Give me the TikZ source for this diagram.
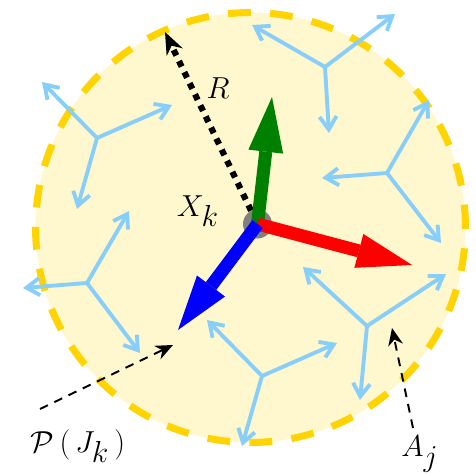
\documentclass[tikz,border=0pt]{standalone}
\usepackage{amsmath,amssymb}
\usepackage{tikz}
\usetikzlibrary{arrows.meta,positioning}
\definecolor{fillyellow}{RGB}{255,247,205}
\definecolor{goldline}{RGB}{255,212,0}
\definecolor{skyspoke}{RGB}{135,206,250}
\definecolor{darkgreen}{RGB}{0,128,0}
\tikzset{
  domdisk/.style={draw=goldline, fill=fillyellow, line width=4pt,
                  dash pattern=on 13pt off 11pt},
  hub/.style    ={circle, fill=black!50, minimum size=0.58cm, inner sep=0pt},
  spoke/.style  ={-{Straight Barb[length=2.6mm,width=3.4mm]}, line width=2.2pt,
                  skyspoke},
  bigarr/.style ={-{Triangle[length=11mm,width=7mm,line width=0pt]},
                  line width=7.4pt},
  radarr/.style ={-{Stealth[length=4.5mm,width=3.6mm,line width=0pt]},
                  line width=3.5pt, dash pattern=on 3.5pt off 3.5pt},
  pointer/.style={-{Stealth[length=3.5mm,width=3mm,line width=0pt]},
                  line width=1.1pt, dash pattern=on 5pt off 4pt},
  lbl/.style    ={font=\fontsize{17}{20}\selectfont, inner sep=1pt},
}
\begin{document}
\begin{tikzpicture}[x=0.02cm,y=-0.02cm]
  \useasboundingbox (0,0) rectangle (476,473);
  % the domain
  \node[domdisk, circle, minimum size=8.6cm, inner sep=0pt] (dom) at (250.5,227.5) {};
  % local frames
  \foreach \cx/\cy/\ax/\ay/\bx/\by/\dx/\dy [count=\i] in
    {325/67/252/25/395/14/329/133,
     97/138/42/82/172/105/77/209,
     387/173/322/178/429/100/441/243,
     87/283/23/288/129/211/140/353,
     367/326/303/267/446/274/360/400,
     262/376/207/320/337/343/242/446}
  {
    \coordinate (f\i) at (\cx,\cy);
    \coordinate (f\i a) at (\ax,\ay);
    \coordinate (f\i b) at (\bx,\by);
    \coordinate (f\i c) at (\dx,\dy);
    \draw[spoke] (f\i) -- (f\i a);
    \draw[spoke] (f\i) -- (f\i b);
    \draw[spoke] (f\i) -- (f\i c);
  }
  % centre and its frame
  \node[hub] (xk) at (257.5,224) {};
  \coordinate (rtip) at (165,32);
  \coordinate (gtip) at (272,97);
  \coordinate (etip) at (412,265);
  \coordinate (btip) at (178,330);
  \draw[radarr] (xk) -- (rtip);
  \draw[bigarr, darkgreen] (xk.center) -- (gtip);
  \draw[bigarr, red] (xk.center) -- (etip);
  \draw[bigarr, blue] (xk.center) -- (btip);
  \node[lbl] (rlab) at (218,88) {$R$};
  \node[lbl] (xlab) at (198,211) {$X_{\textstyle k}$};
  % pointers
  \node[lbl] (plab) at (78,446) {$\mathcal{P}\,(\,J_{\textstyle k}\,)$};
  \node[lbl] (alab) at (420,454) {$A_{\textstyle j}$};
  \coordinate (pstart) at (40,409);
  \coordinate (ptip) at (173,345);
  \coordinate (astart) at (413,428);
  \coordinate (atip) at (392,328);
  \draw[pointer] (pstart) -- (ptip);
  \draw[pointer] (astart) -- (atip);
\end{tikzpicture}
\end{document}
